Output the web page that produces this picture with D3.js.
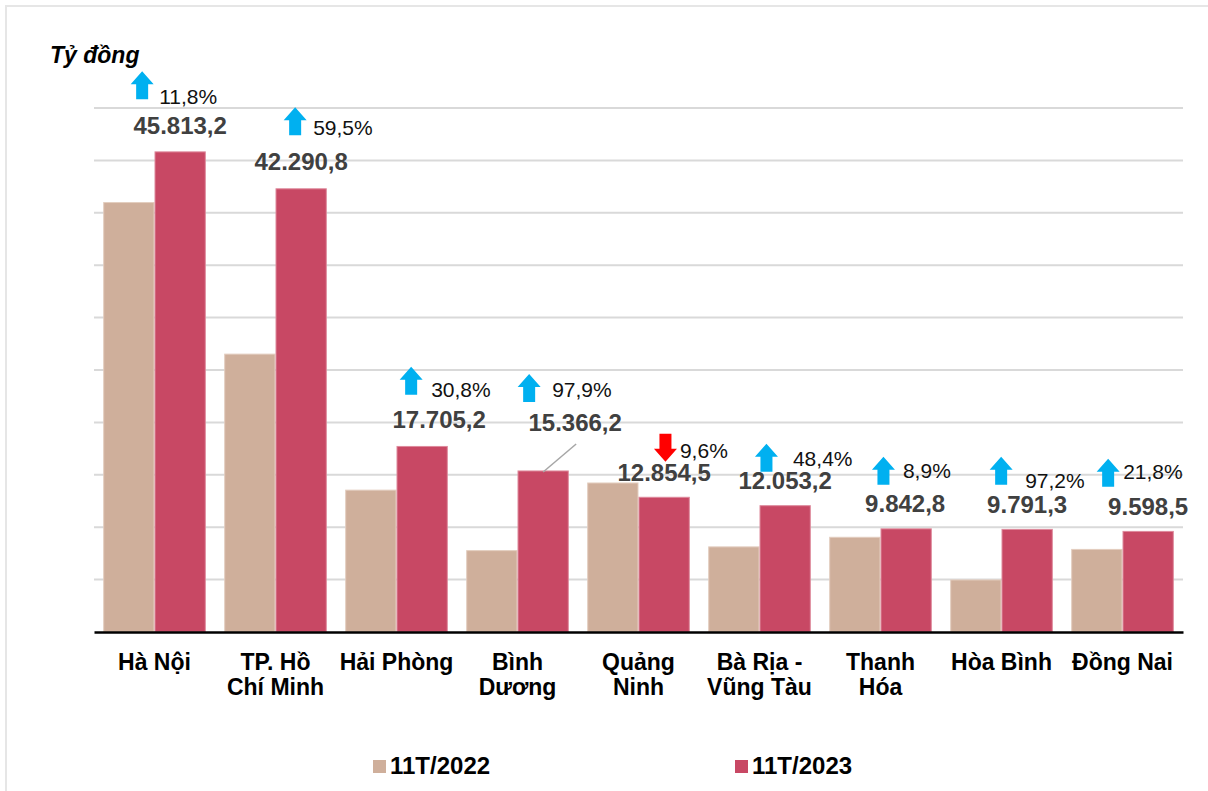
<!DOCTYPE html>
<html>
<head>
<meta charset="utf-8">
<script src="https://cdn.jsdelivr.net/npm/d3@7"></script>
<style>
  html, body { margin: 0; padding: 0; background: #ffffff; }
  svg { display: block; font-family: "Liberation Sans", Arial, sans-serif; }
</style>
</head>
<body>
<svg id="chart" width="1208" height="791"></svg>
<script>
// ---- data ----
const categories = ["Hà Nội", "TP. Hồ Chí Minh", "Hải Phòng", "Bình Dương", "Quảng Ninh",
                    "Bà Rịa - Vũng Tàu", "Thanh Hóa", "Hòa Bình", "Đồng Nai"];
const categoryLines = [["Hà Nội"], ["TP. Hồ", "Chí Minh"], ["Hải Phòng"], ["Bình", "Dương"],
                       ["Quảng", "Ninh"], ["Bà Rịa -", "Vũng Tàu"], ["Thanh", "Hóa"], ["Hòa Bình"], ["Đồng Nai"]];
const series = ["11T/2022", "11T/2023"];
const values2022 = [40978.0, 26514.6, 13536.1, 7764.6, 14219.6, 8122.1, 9038.4, 4965.2, 7880.6];
const values2023 = [45813.2, 42290.8, 17705.2, 15366.2, 12854.5, 12053.2, 9842.8, 9791.3, 9598.5];
const growth = [11.8, 59.5, 30.8, 97.9, -9.6, 48.4, 8.9, 97.2, 21.8];
const yTicks = [0, 5000, 10000, 15000, 20000, 25000, 30000, 35000, 40000, 45000, 50000];
const unitLabel = "Tỷ đồng";

// ---- annotation layout (offsets relative to the 2023 bar) ----
const valDx = [0, 0, 17, 32, 0, 0, -1, 0, 0];
const valDy = [-17.7, -18.6, -18.8, -40, -16.5, -17, -17, -16.6, -16.6];
const arrDx = [-38, -6, -11, -14, 1.3, -18.7, -22.7, -26, -40];
const arrDy = [-52.7, -53.6, -51.8, -69, -35.5, -34, -44, -44.6, -44.6];
const pctDx = [17, 18, 20, 23, 14.5, 26.5, 19.5, 24, 15];
const pctDy = [5, 0, 2, -5, -4, -6, -7, 3, -8];

// ---- styles ----
const colors = ["#CFAF9B", "#C84864"];
const strokes = ["#E3CDBF", "#DE8A9C"];

const svg = d3.select("#chart");
const W = 1208, H = 791;
const plot = { left: 94, right: 1183, top: 108, bottom: 632 };

// frame
svg.append("rect").attr("x", 6).attr("y", 6).attr("width", W + 20).attr("height", H + 20)
  .attr("fill", "none").attr("stroke", "#e6e6e6").attr("stroke-width", 2);

const x = d3.scaleBand().domain(categories).range([plot.left, plot.right])
  .paddingInner(0.152).paddingOuter(0.076);
const xs = d3.scaleBand().domain(series).range([0, x.bandwidth()]);
const y = d3.scaleLinear().domain([0, 50000]).range([plot.bottom, plot.top]);

// gridlines
svg.append("g").selectAll("line").data(yTicks.filter(d => d > 0)).join("line")
  .attr("x1", plot.left).attr("x2", plot.right)
  .attr("y1", d => y(d)).attr("y2", d => y(d))
  .attr("stroke", "#d9d9d9").attr("stroke-width", 2);

// bars
const rows = categories.map((c, i) => ({ c, i, vals: [values2022[i], values2023[i]] }));
const groups = svg.append("g").selectAll("g").data(rows).join("g")
  .attr("transform", d => `translate(${x(d.c)},0)`);
groups.selectAll("rect").data(d => d.vals.map((v, k) => ({ v, k }))).join("rect")
  .attr("x", d => xs(series[d.k]) + 0.5)
  .attr("width", xs.bandwidth() - 1)
  .attr("y", d => y(d.v))
  .attr("height", d => y(0) - y(d.v))
  .attr("fill", d => colors[d.k])
  .attr("stroke", d => strokes[d.k]).attr("stroke-width", 1);

// x axis baseline
const xAxis = d3.axisBottom(x).tickSize(0).tickFormat("");
const gx = svg.append("g").attr("transform", `translate(0,${plot.bottom})`).call(xAxis);
gx.select(".domain").attr("stroke", "#000").attr("stroke-width", 2.5);

// category labels
const lab = svg.append("g").selectAll("text").data(rows).join("text")
  .attr("text-anchor", "middle")
  .attr("font-size", 23).attr("font-weight", "bold").attr("fill", "#000");
lab.each(function(d) {
  const t = d3.select(this);
  categoryLines[d.i].forEach((ln, j) => {
    t.append("tspan").attr("x", x(d.c) + x.bandwidth() / 2).attr("y", 670 + j * 25).text(ln);
  });
});

// value labels
const vi = d3.formatLocale({ decimal: ",", thousands: ".", grouping: [3], currency: ["", ""] });
const fmtVal = vi.format(",.1f");
const fmtPct = vi.format(".1f");
const barCx = i => x(categories[i]) + xs(series[1]) + xs.bandwidth() / 2;
const barTop = i => y(values2023[i]);

svg.append("g").selectAll("text").data(rows).join("text")
  .attr("x", d => barCx(d.i) + valDx[d.i])
  .attr("y", d => barTop(d.i) + valDy[d.i])
  .attr("text-anchor", "middle")
  .attr("font-size", 24).attr("font-weight", "bold").attr("fill", "#404040")
  .text(d => fmtVal(values2023[d.i]));

// leader line for Bình Dương
const iBD = categories.indexOf("Bình Dương");
svg.append("line")
  .attr("x1", barCx(iBD) + 33).attr("y1", barTop(iBD) - 27)
  .attr("x2", barCx(iBD)).attr("y2", barTop(iBD) + 1)
  .attr("stroke", "#a6a6a6").attr("stroke-width", 1.5);

// arrows
function arrowPath(cx, bottom, up) {
  const w = 11.5, sw = 6, h = 28, hh = 13;
  const top = bottom - h;
  if (up) {
    return `M${cx},${top} L${cx + w},${top + hh} L${cx + sw},${top + hh} L${cx + sw},${bottom} L${cx - sw},${bottom} L${cx - sw},${top + hh} L${cx - w},${top + hh} Z`;
  }
  return `M${cx},${bottom} L${cx + w},${bottom - hh} L${cx + sw},${bottom - hh} L${cx + sw},${top} L${cx - sw},${top} L${cx - sw},${bottom - hh} L${cx - w},${bottom - hh} Z`;
}
svg.append("g").selectAll("path").data(rows).join("path")
  .attr("d", d => arrowPath(barCx(d.i) + arrDx[d.i], barTop(d.i) + arrDy[d.i], growth[d.i] >= 0))
  .attr("fill", d => growth[d.i] >= 0 ? "#00B0F0" : "#FF0000");

// percent labels
svg.append("g").selectAll("text").data(rows).join("text")
  .attr("x", d => barCx(d.i) + arrDx[d.i] + pctDx[d.i])
  .attr("y", d => barTop(d.i) + arrDy[d.i] + pctDy[d.i])
  .attr("font-size", 21).attr("fill", "#111")
  .text(d => fmtPct(Math.abs(growth[d.i])) + "%");

// unit label
svg.append("text").attr("x", 50).attr("y", 63)
  .attr("font-size", 23).attr("font-weight", "bold").attr("font-style", "italic").attr("fill", "#000")
  .text(unitLabel);

// legend
const legendX = [373, 735];
const lg = svg.append("g").selectAll("g").data(series).join("g")
  .attr("transform", (d, k) => `translate(${legendX[k]},0)`);
lg.append("rect").attr("x", 0).attr("y", 760).attr("width", 13).attr("height", 13)
  .attr("fill", (d, k) => colors[k]);
lg.append("text").attr("x", 17).attr("y", 774)
  .attr("font-size", 24).attr("font-weight", "bold").attr("fill", "#000")
  .text(d => d);
</script>
</body>
</html>
